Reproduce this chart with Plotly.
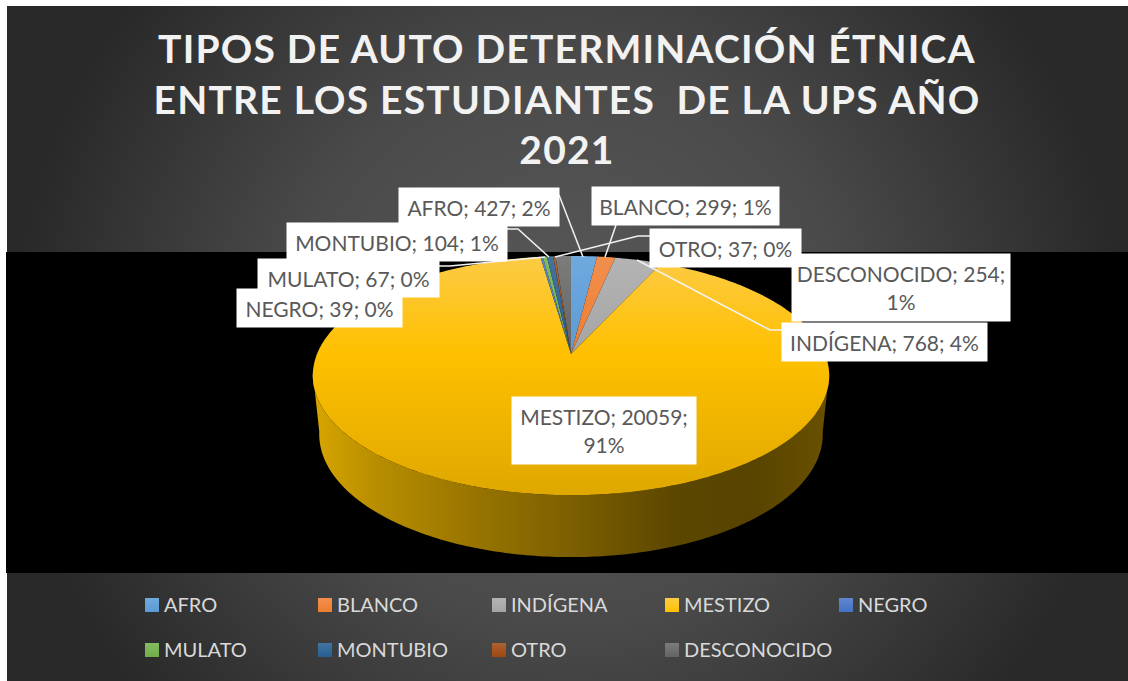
import numpy as np
import plotly.graph_objects as go

categories = ["AFRO", "BLANCO", "INDÍGENA", "MESTIZO", "NEGRO", "MULATO", "MONTUBIO", "OTRO", "DESCONOCIDO"]
values = [427, 299, 768, 20059, 39, 67, 104, 37, 254]
percents = [2, 1, 4, 91, 0, 0, 1, 0, 1]
colors = ["#5B9BD5", "#ED7D31", "#A5A5A5", "#FFC000", "#4472C4", "#70AD47", "#255E91", "#9E480E", "#636363"]
lights = ["#6FA9DE", "#F28F4E", "#B4B4B4", "#FCCB45", "#5F87CF", "#86BB62", "#44749F", "#AD6233", "#7C7C7C"]
darks = ["#4F88BB", "#D06D2B", "#919191", "#DFA800", "#3C64AC", "#62983E", "#20527F", "#8B3F0C", "#575757"]

title_lines = ["TIPOS DE AUTO DETERMINACIÓN ÉTNICA", "ENTRE LOS ESTUDIANTES  DE LA UPS AÑO", "2021"]

# label boxes: left, top, right, bottom, in page pixels
label_boxes = {
    "AFRO": (399, 188, 559, 226),
    "BLANCO": (592, 187, 779, 225),
    "INDÍGENA": (782, 323, 987, 361),
    "MESTIZO": (512, 397, 696, 464),
    "NEGRO": (237, 289, 402, 327),
    "MULATO": (258, 259, 439, 297),
    "MONTUBIO": (287, 223, 507, 261),
    "OTRO": (650, 229, 801, 267),
    "DESCONOCIDO": (792, 254, 1010, 321),
}
label_breaks = {"MESTIZO", "DESCONOCIDO"}

leaders = [
    ([559, 583], [195, 257]),
    ([616, 605], [225, 257]),
    ([650, 638, 555], [236, 236, 257]),
    ([507, 518, 549], [229, 229, 257]),
    ([439, 450, 545], [266, 266, 257]),
    ([782, 770, 637], [330, 330, 260]),
]

# legend layout
legend_cols = [152, 325, 499, 672, 846]
legend_rows = [605, 650]

# pie projection, tilted circle seen in perspective
CX = 571
SX = 254
R = 0.18
P = -52
Q = 354


def project(theta):
    s, c = np.sin(theta), np.cos(theta)
    d = 1 + R * c
    return CX + SX * s / d, (P * c + Q) / d


def project_bottom(theta):
    x, y = project(theta)
    return CX + (x - CX) * 0.975, y + 58 - 4 * np.cos(theta)


fig = go.Figure()

# background
fig.add_trace(go.Scatter(
    x=[7, 1128, 1128, 7, 7], y=[-217, -217, 903, 903, -217],
    mode="none", fill="toself", hoverinfo="skip", showlegend=False,
    fillgradient=dict(type="radial", colorscale=[[0, "#5A5A5A"], [0.5, "#4A4A4A"], [1, "#282828"]]),
))
fig.add_trace(go.Scatter(
    x=[6, 1128, 1128, 6, 6], y=[252, 252, 573, 573, 252],
    mode="none", fill="toself", fillcolor="#000000", hoverinfo="skip", showlegend=False,
))

# side wall
front = np.linspace(np.arccos(-R) - 0.02, 2 * np.pi - np.arccos(-R) + 0.02, 200)
tx, ty = project(front)
bx, by = project_bottom(front)
fig.add_trace(go.Scatter(
    x=np.concatenate([tx, bx[::-1]]), y=np.concatenate([ty, by[::-1]]),
    mode="none", fill="toself", hoverinfo="skip", showlegend=False,
    fillgradient=dict(
        type="horizontal", start=313, stop=829,
        colorscale=[[0, "#D8A600"], [0.12, "#B88E00"], [0.3, "#9A7600"], [0.5, "#7C5F00"],
                    [0.7, "#5C4700"], [0.85, "#584400"], [1, "#6A5100"]],
    ),
))

# slices
total = sum(values)
angle = 0.0
for name, val, col, light, dark in zip(categories, values, colors, lights, darks):
    sweep = 2 * np.pi * val / total
    th = np.linspace(angle, angle + sweep, max(int(sweep * 60), 3))
    rx, ry = project(th)
    fig.add_trace(go.Scatter(
        x=np.concatenate([[CX], rx, [CX]]), y=np.concatenate([[Q], ry, [Q]]),
        mode="none", fill="toself", name=name, showlegend=False,
        hoverinfo="text", hoverlabel=dict(namelength=0), text=f"{name}: {val}",
        fillgradient=dict(type="vertical", start=256, stop=495,
                          colorscale=[[0, light], [0.41, col], [1, dark]]),
    ))
    angle += sweep

# leader lines
for lx, ly in leaders:
    fig.add_trace(go.Scatter(x=lx, y=ly, mode="lines", line=dict(color="#F2F2F2", width=1.5),
                             hoverinfo="skip", showlegend=False))

# legend
for i, (name, col, light) in enumerate(zip(categories, colors, lights)):
    lx = legend_cols[i % 5]
    ly = legend_rows[i // 5]
    fig.add_trace(go.Scatter(
        x=[lx], y=[ly], mode="markers", hoverinfo="skip", showlegend=False,
        marker=dict(symbol="square", size=14, color=light, line=dict(width=0),
                    gradient=dict(type="vertical", color=col)),
    ))
    fig.add_annotation(x=lx + 10, y=ly - 1, text=name, showarrow=False, xanchor="left", yanchor="middle",
                       font=dict(family="Lato", size=20, color="#D9D9D9"))

# data labels
for name, val, pct in zip(categories, values, percents):
    x0, y0, x1, y1 = label_boxes[name]
    sep = "<br>" if name in label_breaks else " "
    fig.add_annotation(
        x=(x0 + x1) / 2, y=(y0 + y1) / 2, text=f"{name}; {val};{sep}{pct}%",
        showarrow=False, xanchor="center", yanchor="middle",
        width=x1 - x0, height=y1 - y0, bgcolor="#FFFFFF", borderpad=0, align="center",
        font=dict(family="Lato", size=21, color="#595959"),
    )

title_text = "<br>".join(f'<span style="letter-spacing:1.2px">{t}</span>' for t in title_lines)

fig.update_layout(
    width=1128, height=681,
    margin=dict(l=6, r=0, t=6, b=0),
    paper_bgcolor="#FFFFFF", plot_bgcolor="rgba(0,0,0,0)",
    title=dict(text=title_text, x=0.5, xanchor="center", xref="paper", y=0.9075, yanchor="top",
               font=dict(family="Lato", size=39, color="#F2F2F2", weight="bold")),
    xaxis=dict(range=[6, 1128], visible=False, fixedrange=True),
    yaxis=dict(range=[681, 6], visible=False, fixedrange=True),
    showlegend=False,
)

# the default page margin would push the figure off the window
fig.write_html("out.html", config={"displayModeBar": False}, post_script="document.body.style.margin='0';")
